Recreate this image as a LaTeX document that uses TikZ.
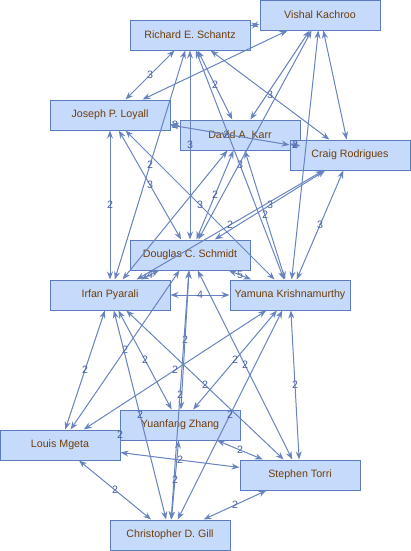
\documentclass[tikz,border=0pt]{standalone}
\usepackage{fontspec}
\setmainfont{Liberation Sans}
\usepackage{xcolor}
\usetikzlibrary{arrows.meta}

\definecolor{boxfill}{RGB}{198,218,252}
\definecolor{boxline}{RGB}{92,124,192}
\definecolor{namecol}{RGB}{110,62,10}
\definecolor{edgecol}{RGB}{104,132,192}
\definecolor{labelcol}{RGB}{72,96,160}

\begin{document}
\begin{tikzpicture}[
  x=0.75pt, y=-0.75pt,
  box/.style={
    draw=boxline,
    fill=boxfill,
    line width=0.75pt,
    minimum width=90pt,
    minimum height=22.5pt,
    inner sep=0pt,
    text=namecol,
    font=\fontsize{8}{10}\selectfont
  },
  arrow/.style={{Stealth[length=6pt,width=4.5pt]}-{Stealth[length=6pt,width=4.5pt]}, draw=edgecol, line width=0.75pt},
  edgelabel/.style={font=\fontsize{8}{10}\selectfont, text=labelcol, inner sep=0.5pt}
]
\useasboundingbox (0,0) rectangle (411,551);

\node[box] (richard) at (190,35) {Richard E. Schantz};
\node[box] (vishal) at (320,15) {Vishal Kachroo};
\node[box] (joseph) at (110,115) {Joseph P. Loyall};
\node[box] (karr) at (240,135) {David A. Karr};
\node[box] (craig) at (350,155) {Craig Rodrigues};
\node[box] (douglas) at (190,255) {Douglas C. Schmidt};
\node[box] (irfan) at (110,295) {Irfan Pyarali};
\node[box] (yamuna) at (290,295) {Yamuna Krishnamurthy};
\node[box] (yuanfang) at (180,425) {Yuanfang Zhang};
\node[box] (louis) at (60,445) {Louis Mgeta};
\node[box] (stephen) at (300,475) {Stephen Torri};
\node[box] (gill) at (170,535) {Christopher D. Gill};

% upper group
\draw[arrow] (richard) -- (vishal);
\draw[arrow] (richard) -- node[edgelabel]{3} (joseph);
\draw[arrow] (richard) -- node[edgelabel]{2} (karr);
\draw[arrow] (richard) -- node[edgelabel]{3} (craig);
\draw[arrow] (richard) -- node[edgelabel]{3} (douglas);
\draw[arrow] (richard) -- node[edgelabel]{2} (irfan);
\draw[arrow] (richard) -- node[edgelabel]{3} (yamuna);
\draw[arrow] (joseph) -- (vishal);
\draw[arrow] (vishal) -- (karr);
\draw[arrow] (vishal) -- (craig);
\draw[arrow] (vishal) -- (douglas);
\draw[arrow] (vishal) -- (yamuna);
\draw[arrow] (joseph) -- node[edgelabel]{2} (karr);
\draw[arrow] (karr) -- node[edgelabel]{2} (craig);
\draw[arrow] (joseph) -- node[edgelabel, pos=0.47]{2} (craig);
\draw[arrow] (joseph) -- node[edgelabel]{2} (irfan);
\draw[arrow] (joseph) -- node[edgelabel]{3} (douglas);
\draw[arrow] (joseph) -- node[edgelabel]{3} (yamuna);
\draw[arrow] (karr) -- node[edgelabel]{2} (douglas);
\draw[arrow] (karr) -- (irfan);
\draw[arrow] (karr) -- node[edgelabel]{2} (yamuna);
\draw[arrow] (craig) -- node[edgelabel]{3} (douglas);
\draw[arrow] (craig) -- node[edgelabel]{2} (irfan);
\draw[arrow] (craig) -- node[edgelabel]{3} (yamuna);

% middle row
\draw[arrow] (douglas) -- node[edgelabel]{4} (irfan);
\draw[arrow] (douglas) -- node[edgelabel]{5} (yamuna);
\draw[arrow] (irfan) -- node[edgelabel]{4} (yamuna);

% lower group
\draw[arrow] (douglas) -- node[edgelabel]{2} (yuanfang);
\draw[arrow] (douglas) -- node[edgelabel]{2} (gill);
\draw[arrow] (douglas) -- node[edgelabel]{2} (louis);
\draw[arrow] (douglas) -- node[edgelabel]{2} (stephen);
\draw[arrow] (irfan) -- node[edgelabel]{2} (louis);
\draw[arrow] (irfan) -- node[edgelabel]{2} (yuanfang);
\draw[arrow] (irfan) -- node[edgelabel]{2} (gill);
\draw[arrow] (irfan) -- node[edgelabel]{2} (stephen);
\draw[arrow] (yamuna) -- node[edgelabel]{2} (louis);
\draw[arrow] (yamuna) -- node[edgelabel]{2} (yuanfang);
\draw[arrow] (yamuna) -- node[edgelabel]{2} (gill);
\draw[arrow] (yamuna) -- node[edgelabel]{2} (stephen);
\path (yuanfang) -- node[edgelabel]{2} (louis);
\draw[arrow] (yuanfang) -- node[edgelabel]{2} (stephen);
\draw[arrow] (yuanfang) -- node[edgelabel]{2} (gill);
\draw[arrow] (louis) -- node[edgelabel]{2} (stephen);
\draw[arrow] (louis) -- node[edgelabel]{2} (gill);
\draw[arrow] (stephen) -- node[edgelabel]{2} (gill);
\end{tikzpicture}
\end{document}
